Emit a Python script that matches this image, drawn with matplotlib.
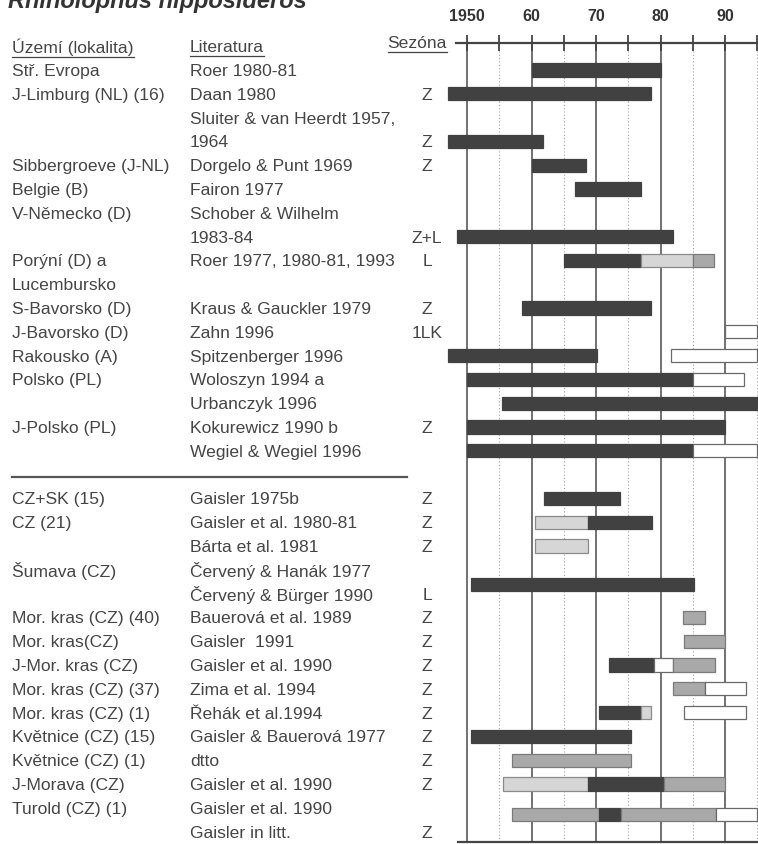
import matplotlib.pyplot as plt
from matplotlib.transforms import blended_transform_factory
from matplotlib.lines import Line2D
from matplotlib.ticker import MultipleLocator

plt.rcParams["font.family"] = ["Liberation Sans", "DejaVu Sans"]

title = "Rhinolophus hipposideros"
year_ticks = [1950, 1960, 1970, 1980, 1990]
year_labels = ["1950", "60", "70", "80", "90"]

# table lines: top block (Europe), bottom block (CZ)
regions = ["Stř. Evropa", "J-Limburg (NL) (16)", "", "", "Sibbergroeve (J-NL)",
           "Belgie (B)", "V-Německo (D)", "", "Porýní (D) a", "Lucembursko",
           "S-Bavorsko (D)", "J-Bavorsko (D)", "Rakousko (A)", "Polsko (PL)", "",
           "J-Polsko (PL)", "",
           "CZ+SK (15)", "CZ (21)", "", "Šumava (CZ)", "", "Mor. kras (CZ) (40)",
           "Mor. kras(CZ)", "J-Mor. kras (CZ)", "Mor. kras (CZ) (37)",
           "Mor. kras (CZ) (1)", "Květnice (CZ) (15)", "Květnice (CZ) (1)",
           "J-Morava (CZ)", "Turold (CZ) (1)", ""]
refs = ["Roer 1980-81", "Daan 1980", "Sluiter & van Heerdt 1957,", "1964",
        "Dorgelo & Punt 1969", "Fairon 1977", "Schober & Wilhelm", "1983-84",
        "Roer 1977, 1980-81, 1993", "", "Kraus & Gauckler 1979", "Zahn 1996",
        "Spitzenberger 1996", "Woloszyn 1994 a", "Urbanczyk 1996",
        "Kokurewicz 1990 b", "Wegiel & Wegiel 1996",
        "Gaisler 1975b", "Gaisler et al. 1980-81", "Bárta et al. 1981",
        "Červený & Hanák 1977", "Červený & Bürger 1990", "Bauerová et al. 1989",
        "Gaisler  1991", "Gaisler et al. 1990", "Zima et al. 1994",
        "Řehák et al.1994", "Gaisler & Bauerová 1977", "dtto",
        "Gaisler et al. 1990", "Gaisler et al. 1990", "Gaisler in litt."]
seasons = ["", "Z", "", "Z", "Z", "", "", "Z+L", "L", "", "Z", "1LK", "", "", "",
           "Z", "",
           "Z", "Z", "Z", "", "L", "Z", "Z", "Z", "Z", "Z", "Z", "Z", "Z", "", "Z"]

# bar segments (row, from, to, kind)  D dark, G grey, L light, W white
seg_row = [0, 1, 3, 4, 5, 7, 8, 8, 8, 10, 11, 12, 12, 13, 13, 14, 15, 16, 16,
           18, 19, 19, 20, 21.6, 23, 24, 25, 25, 25, 26, 26, 27, 27, 27, 28, 29,
           30, 30, 30, 31.3, 31.3, 31.3, 31.3]
seg_start = [1960, 1947, 1947, 1960, 1966.8, 1948.5, 1965, 1977, 1985, 1958.6,
             1990, 1947, 1981.7, 1950, 1985, 1955.4, 1950, 1950, 1985,
             1962, 1960.5, 1968.7, 1960.5, 1950.6, 1983.5, 1983.7, 1972, 1979,
             1982, 1982, 1986.9, 1970.5, 1977, 1983.7, 1950.6, 1957,
             1955.6, 1968.7, 1980.5, 1957, 1970.5, 1973.8, 1988.6]
seg_end = [1980, 1978.5, 1961.8, 1968.5, 1977, 1982, 1977, 1985, 1988.3, 1978.6,
           1995, 1970.2, 1995, 1985, 1993, 1995.2, 1990, 1985, 1995,
           1973.7, 1968.7, 1978.7, 1968.8, 1985.2, 1986.9, 1990, 1979, 1982,
           1988.5, 1986.9, 1993.2, 1977, 1978.6, 1993.2, 1975.4, 1975.4,
           1968.7, 1980.5, 1990, 1970.5, 1973.8, 1988.6, 1995]
seg_kind = ["D", "D", "D", "D", "D", "D", "D", "L", "G", "D", "W", "D", "W",
            "D", "W", "D", "D", "D", "W",
            "D", "L", "D", "L", "D", "G", "G", "D", "W", "G", "G", "W", "D", "L",
            "W", "D", "G", "L", "D", "G", "G", "D", "G", "W"]

fills = {"D": "#414141", "G": "#a9a9a9", "L": "#d6d6d6", "W": "#ffffff"}
edges = {"D": "#414141", "G": "#7a7a7a", "L": "#8a8a8a", "W": "#6a6a6a"}
txt_col = "#454545"

W, H = 758, 844
fig = plt.figure(figsize=(W / 100, H / 100), dpi=100)
ax = fig.add_axes([440 / W, 1 - 842 / H, (758 - 440) / W, (842 - 43) / H])

# rows are 23.8 px apart, row 0 at y=70 px
ax.set_xlim(1950 - 27 / 6.45, 1950 + 291 / 6.45)
ax.set_ylim((842 - 70) / 23.8, (43 - 70) / 23.8)

ax.xaxis.tick_top()
ax.set_xticks(year_ticks)
ax.set_xticklabels(year_labels, fontsize=11.5, fontweight="bold", color="#333333")
ax.xaxis.set_minor_locator(MultipleLocator(5))
ax.tick_params(axis="x", which="both", direction="inout", length=12, width=1.3,
               color="#444444", pad=8)
ax.set_yticks([])
ax.grid(which="major", axis="x", color="#4a4a4a", lw=1.1, zorder=0)
ax.grid(which="minor", axis="x", color="#a0a0a0", lw=0.8, ls=(0, (1, 2)), zorder=0)
for s in ["left", "right"]:
    ax.spines[s].set_visible(False)
ax.spines["top"].set_bounds(1948.3, 1996)
ax.spines["bottom"].set_bounds(1948.6, 1996)
for s in ["top", "bottom"]:
    ax.spines[s].set_linewidth(1.6)
    ax.spines[s].set_color("#444444")

for r, a, b, k in zip(seg_row, seg_start, seg_end, seg_kind):
    ax.barh(r, b - a, left=a, height=0.55, color=fills[k], edgecolor=edges[k],
            linewidth=0.9, zorder=3)

tr = blended_transform_factory(fig.transFigure, ax.transData)
rows = list(range(17)) + list(range(18, 33))
for r, reg, ref, sz in zip(rows, regions, refs, seasons):
    y = r + 0.06
    ax.text(12 / W, y, reg, transform=tr, fontsize=12.6, color=txt_col, va="center")
    ax.text(190 / W, y, ref, transform=tr, fontsize=12.6, color=txt_col, va="center")
    ax.text(427 / W, y, sz, transform=tr, fontsize=12.6, color=txt_col, va="center",
            ha="center")

# separator between the two blocks
ax.add_line(Line2D([12 / W, 407 / W], [17.1, 17.1], transform=tr, color="#555555",
                   lw=1.6, clip_on=False))

# underlined headers
heads = [fig.text(12 / W, 1 - 47 / H, "Území (lokalita)", fontsize=12.6,
                  color=txt_col, va="center"),
         fig.text(190 / W, 1 - 47 / H, "Literatura", fontsize=12.6,
                  color=txt_col, va="center"),
         fig.text(447 / W, 1 - 43 / H, "Sezóna", fontsize=12.6, color=txt_col,
                  va="center", ha="right")]
renderer = fig.canvas.get_renderer()
for t in heads:
    bb = t.get_window_extent(renderer)
    yl = bb.y0 - 1
    fig.add_artist(Line2D([bb.x0 / W, bb.x1 / W], [yl / H, yl / H], color=txt_col,
                          lw=0.9))

fig.text(8 / W, 1 - 8 / H, title, fontsize=17, fontweight="bold", style="italic",
         color="#333333", va="baseline")

fig.savefig("out.png", dpi=100)
